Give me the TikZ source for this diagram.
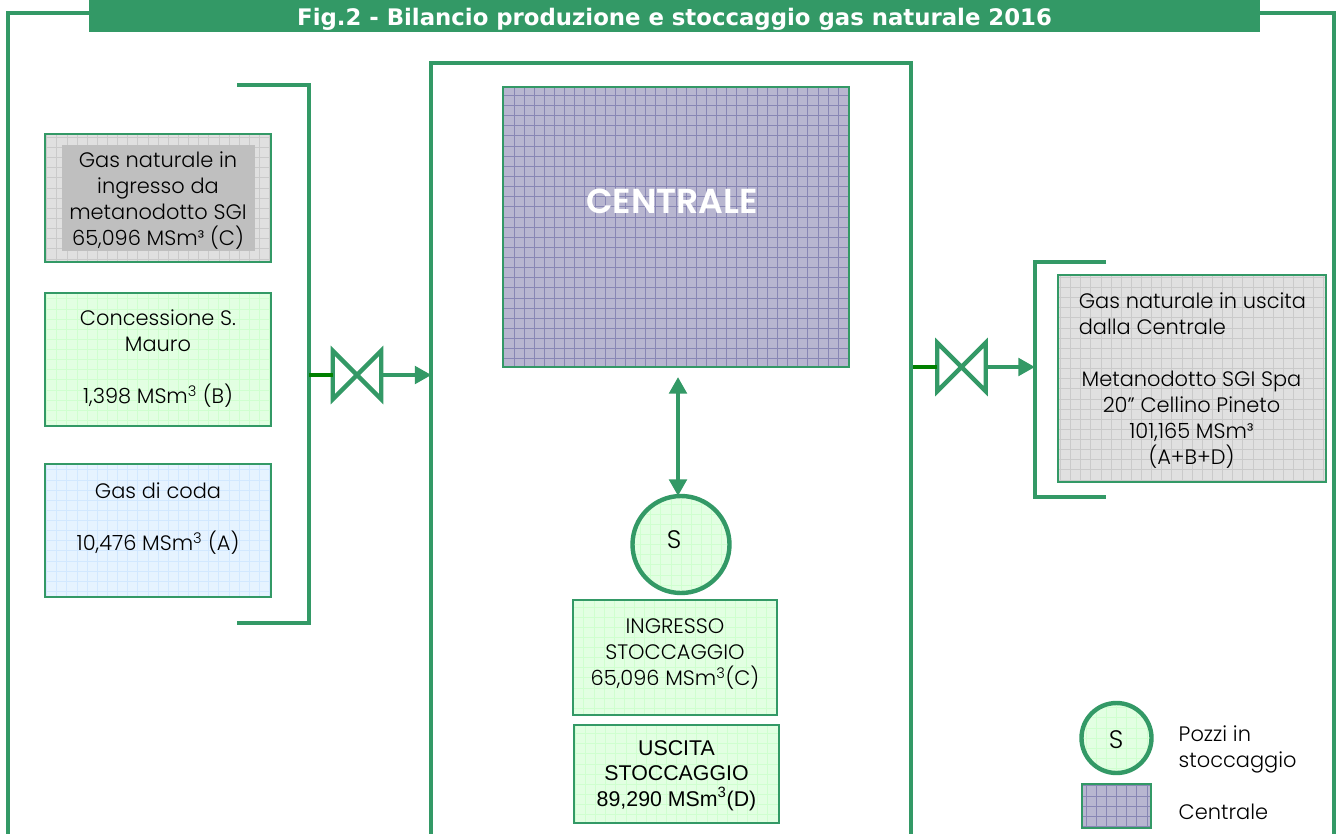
\documentclass[tikz,border=0pt]{standalone}
\usepackage{fontspec}
\setmainfont{Poppins Light}
\newfontfamily\popfont{Poppins SemiBold}
\newfontfamily\titlefont{DejaVu Sans}
\newfontfamily\arialfont{Liberation Sans}
\usetikzlibrary{arrows.meta,calc}
\definecolor{gr}{HTML}{339966}
\definecolor{dgr}{HTML}{008000}
\definecolor{plantfill}{HTML}{B8B6D0}
\definecolor{plantgrid}{HTML}{8886B4}
\definecolor{greyfill}{HTML}{E0E0E0}
\definecolor{greygrid}{HTML}{CACACA}
\definecolor{greenfill}{HTML}{E2FFE2}
\definecolor{greengrid}{HTML}{CFFFCF}
\definecolor{bluefill}{HTML}{E6F3FF}
\definecolor{bluegrid}{HTML}{D2E8FF}
\tikzset{
  x=0.75pt,y=-0.75pt,
  greenline/.style={draw=gr,line width=3.3pt,line cap=rect},
  size/.style 2 args={minimum width=#1*0.75pt,minimum height=#2*0.75pt,inner sep=0pt},
  gridbox/.style n args={3}{draw=gr,line width=2.1pt,fill=#1,align=center,
    path picture={\draw[#2,line width=#3,step=7.6pt]
      (path picture bounding box.south west) grid (path picture bounding box.north east);}},
  txt/.style={font=\fontsize{15.7pt}{19.5pt}\selectfont,text=black,align=center},
  bigs/.style={font=\fontsize{19pt}{20pt}\selectfont,text=black},
  graybox/.style={gridbox={greyfill}{greygrid}{0.4pt}},
  greenbox/.style={gridbox={greenfill}{greengrid}{0.5pt}},
  bluebox/.style={gridbox={bluefill}{bluegrid}{0.5pt}},
  plantbox/.style={gridbox={plantfill}{plantgrid}{0.5pt},line width=1pt},
  valvebox/.style={size={48}{48}},
  flow/.style={draw=gr,line width=3.2pt,-{Triangle[length=12.5pt,width=13pt]}},
  flowboth/.style={draw=gr,line width=3.2pt,{Triangle[length=12.5pt,width=13pt]}-{Triangle[length=12.5pt,width=13pt]}},
  stub/.style={draw=dgr,line width=3.2pt},
  legendtxt/.style={txt,anchor=west,align=left},
}
\begin{document}
\begin{tikzpicture}
\useasboundingbox (0,0) rectangle (1340,833);
\clip (0,0) rectangle (1340,833);
\fill[white] (0,0) rectangle (1340,833);
% outer frame
\coordinate (fa) at (89,13); \coordinate (fb) at (8,13); \coordinate (fc) at (8,860);
\coordinate (fd) at (1334,860); \coordinate (fe) at (1334,13); \coordinate (ff) at (1260,13);
\draw[greenline] (fa) -- (fb) -- (fc);
\draw[greenline] (fd) -- (fe) -- (ff);
\node[fill=gr,size={1171}{32}] (title) at (674.5,16) {};
\node[text=white,font=\titlefont\bfseries\fontsize{17.1pt}{20pt}\selectfont] (titlet) at (674.5,19) {Fig.2 - Bilancio produzione e stoccaggio gas naturale 2016};
% left bracket
\coordinate (la) at (237,85); \coordinate (lb) at (309,85); \coordinate (lc) at (309,623); \coordinate (ld) at (237,623);
\draw[greenline,line cap=butt,line join=miter] (la) -- (lb) -- (lc) -- (ld);
% left boxes
\node[graybox,size={226}{128}] (b1) at (158,198) {};
\node[fill=black!25,size={193}{106},txt] (b1f) at (158.5,198) {};
\node[txt] (b1t) at (158,200.5) {Gas naturale in\\ingresso da\\metanodotto SGI\\65,096 MSm³ (C)};
\node[greenbox,size={226}{133}] (b2) at (158,359.5) {};
\node[txt] (b2t) at (158,359) {Concessione S.\\Mauro\\[19.5pt]1,398 MSm\textsuperscript{3} (B)};
\node[bluebox,size={226}{133}] (b3) at (158,530.5) {};
\node[txt] (b3t) at (158,518.5) {Gas di coda\\[19.5pt]10,476 MSm\textsuperscript{3} (A)};
% central
\node[draw=gr,line width=3.3pt,size={480}{837}] (central) at (671,481.5) {};
\node[plantbox,size={346}{280},draw=gr] (plant) at (676,227) {};
\node[text=white,font=\popfont\fontsize{26pt}{30pt}\selectfont] (plantt) at (672,201) {CENTRALE};
\node[circle,greenbox,draw=gr,line width=3.3pt,size={97}{97},outer sep=0pt] (s) at (681,544.5) {};
\node[bigs] (st) at (674,540) {S};
\node[greenbox,size={204}{115}] (in) at (675,657.5) {};
\node[txt] (int) at (675,654.5) {INGRESSO\\STOCCAGGIO\\65,096 MSm\textsuperscript{3}(C)};
\node[greenbox,size={205}{98}] (out) at (676.5,774) {};
\node[font=\arialfont\fontsize{16pt}{19pt}\selectfont,text=black,align=center] (outt) at (676.5,775.5) {USCITA\\STOCCAGGIO\\89,290 MSm\textsuperscript{3}(D)};
\coordinate (ctop) at (678,377);
\draw[flowboth] (ctop) -- (ctop |- s.north);
% left valve
\node[valvebox] (v1) at (357,375) {};
\draw[draw=gr,line width=3.2pt,line join=miter] (v1.north west) -- (v1.south east) -- (v1.north east) -- (v1.south west) -- cycle;
\draw[stub] (v1.west -| lb) -- (v1.west);
\draw[flow,shorten >=-2pt] (v1.east) -- (v1.east -| central.west);
% right valve
\node[valvebox] (v2) at (961.5,367) {};
\draw[draw=gr,line width=3.2pt,line join=miter] (v2.north west) -- (v2.south east) -- (v2.north east) -- (v2.south west) -- cycle;
\draw[stub] (v2.west -| central.east) -- (v2.west);
\coordinate (ra) at (1106,262); \coordinate (rb) at (1035,262); \coordinate (rc) at (1035,497); \coordinate (rd) at (1106,497);
\draw[flow] (v2.east) -- (v2.east -| rb);
\draw[greenline,line cap=butt,line join=miter] (ra) -- (rb) -- (rc) -- (rd);
% right box
\node[graybox,size={268}{207}] (rbox) at (1192,378.5) {};
\node[txt] (rboxt) at (1191.5,380.5) {\makebox[169pt][l]{Gas naturale in uscita}\\\makebox[169pt][l]{dalla Centrale}\\[19.5pt]Metanodotto SGI Spa\\20'' Cellino Pineto\\101,165 MSm³\\(A+B+D)};
% legend
\node[circle,greenbox,draw=gr,line width=3.3pt,size={70}{70}] (ls) at (1116.5,738) {};
\node[bigs] (lst) at (1116,740) {S};
\node[plantbox,size={69}{44},draw=gr] (lp) at (1116.5,806) {};
\node[legendtxt] (lt1) at (1174,749) {Pozzi in\\stoccaggio};
\node[legendtxt] (lt2) at (1174,812) {Centrale};
\end{tikzpicture}
\end{document}
